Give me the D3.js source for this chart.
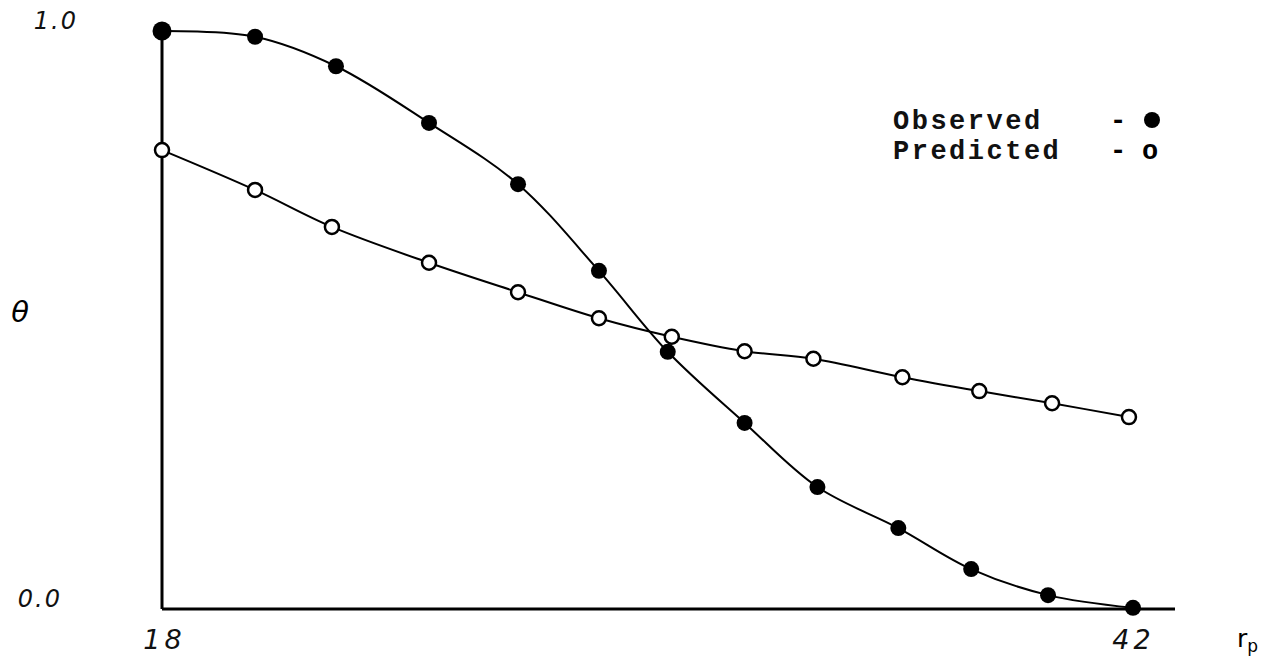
<!DOCTYPE html>
<html>
<head>
<meta charset="utf-8">
<script src="https://cdn.jsdelivr.net/npm/d3@7"></script>
<style>
  body { margin: 0; background: #fff; }
  svg { display: block; }
</style>
</head>
<body>
<svg id="chart" width="1275" height="660"></svg>
<script>
// values
const rpObserved = [18, 20.3, 22.3, 24.6, 26.8, 28.8, 30.5, 32.4, 34.2, 36.2, 38.0, 39.9, 42];
const thetaObserved = [1.0, 0.99, 0.939, 0.841, 0.735, 0.585, 0.445, 0.322, 0.211, 0.14, 0.069, 0.024, 0.002];
const rpPredicted = [18, 20.3, 22.2, 24.6, 26.8, 28.8, 30.6, 32.4, 34.1, 36.3, 38.2, 40.0, 41.9];
const thetaPredicted = [0.794, 0.725, 0.661, 0.599, 0.548, 0.503, 0.471, 0.446, 0.433, 0.401, 0.377, 0.356, 0.332];
const xTicks = [18, 42];
const yTicks = [0.0, 1.0];
const legendLabels = ['Observed', 'Predicted'];

const svg = d3.select('#chart');
const handFont = '"DejaVu Sans", sans-serif';
const typeFont = '"Liberation Mono", "DejaVu Sans Mono", monospace';

const x = d3.scaleLinear().domain([18, 42]).range([162, 1133]);
const y = d3.scaleLinear().domain([0, 1]).range([609, 31]);

// y axis only goes up to 1.0, x axis runs a bit past 42
svg.append('line')
    .attr('x1', x(18)).attr('x2', x(18))
    .attr('y1', y(0)).attr('y2', y(1))
    .attr('stroke', '#000').attr('stroke-width', 3);
svg.append('line')
    .attr('x1', x(18)).attr('x2', 1175)
    .attr('y1', y(0)).attr('y2', y(0))
    .attr('stroke', '#000').attr('stroke-width', 3);

const yAxis = svg.append('g')
    .attr('transform', `translate(${x(18)},0)`)
    .call(d3.axisLeft(y).tickValues(yTicks).tickSize(0).tickFormat(d3.format('.1f')));
yAxis.select('.domain').remove();
yAxis.selectAll('.tick text')
    .attr('x', d => d === 0 ? -100 : -84)
    .attr('dy', '-0.1em')
    .style('font-family', handFont)
    .style('font-style', 'italic')
    .style('font-size', '24px')
    .style('letter-spacing', '2px')
    .attr('fill', '#111');

const xAxis = svg.append('g')
    .attr('transform', `translate(0,${y(0)})`)
    .call(d3.axisBottom(x).tickValues(xTicks).tickSize(0).tickFormat(d3.format('d')));
xAxis.select('.domain').remove();
xAxis.selectAll('.tick text')
    .attr('y', 21)
    .attr('dy', '0.71em')
    .attr('dx', d => d === 18 ? 2 : 0)
    .style('font-family', handFont)
    .style('font-style', 'italic')
    .style('font-size', '27px')
    .style('letter-spacing', '4px')
    .attr('fill', '#111');

// axis titles
svg.append('text')
    .attr('x', 20).attr('y', 322)
    .attr('text-anchor', 'middle')
    .style('font-family', handFont)
    .style('font-style', 'italic')
    .style('font-size', '29px')
    .text('θ');

const rpLabel = svg.append('text')
    .attr('x', 1237).attr('y', 647)
    .style('font-family', handFont)
    .style('font-size', '25px');
rpLabel.append('tspan').text('r');
rpLabel.append('tspan').attr('dy', 5).style('font-size', '17px').text('p');

// curves
const obsData = rpObserved.map((r, i) => [r, thetaObserved[i]]);
const predData = rpPredicted.map((r, i) => [r, thetaPredicted[i]]);

const line = d3.line()
    .x(d => x(d[0]))
    .y(d => y(d[1]))
    .curve(d3.curveCatmullRom.alpha(0.5));

svg.append('path')
    .datum(predData)
    .attr('d', line)
    .attr('fill', 'none')
    .attr('stroke', '#000')
    .attr('stroke-width', 2);

svg.append('path')
    .datum(obsData)
    .attr('d', line)
    .attr('fill', 'none')
    .attr('stroke', '#000')
    .attr('stroke-width', 2);

svg.append('g').selectAll('circle')
    .data(predData)
    .join('circle')
    .attr('cx', d => x(d[0]))
    .attr('cy', d => y(d[1]))
    .attr('r', 7)
    .attr('fill', '#fff')
    .attr('stroke', '#000')
    .attr('stroke-width', 2.5);

svg.append('g').selectAll('circle')
    .data(obsData)
    .join('circle')
    .attr('cx', d => x(d[0]))
    .attr('cy', d => y(d[1]))
    .attr('r', (d, i) => i === 0 ? 9.5 : 8)
    .attr('fill', '#000');

// legend, typewriter style
const legend = svg.append('g');
legend.selectAll('text.name')
    .data(legendLabels)
    .join('text')
    .attr('class', 'name')
    .attr('x', 893)
    .attr('y', (d, i) => 129 + i * 30)
    .style('font-family', typeFont)
    .style('font-size', '27px')
    .style('letter-spacing', '2.5px')
    .style('font-weight', 'bold')
    .attr('fill', '#111')
    .text(d => d);

legend.selectAll('text.dash')
    .data(legendLabels)
    .join('text')
    .attr('class', 'dash')
    .attr('x', 1110)
    .attr('y', (d, i) => 129 + i * 30)
    .style('font-family', typeFont)
    .style('font-size', '27px')
    .style('font-weight', 'bold')
    .text('-');

legend.append('circle')
    .attr('cx', 1152).attr('cy', 120)
    .attr('r', 8)
    .attr('fill', '#000');

legend.append('text')
    .attr('x', 1142).attr('y', 159)
    .style('font-family', typeFont)
    .style('font-size', '27px')
    .style('font-weight', 'bold')
    .text('o');
</script>
</body>
</html>
